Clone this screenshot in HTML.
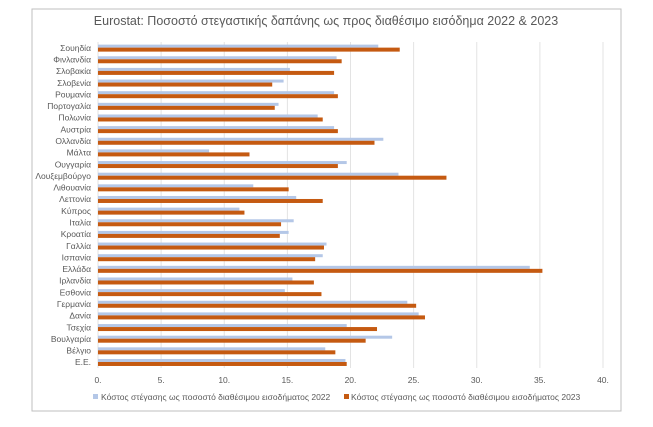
<!DOCTYPE html>
<html><head><meta charset="utf-8"><style>
body{margin:0;background:#fff;width:653px;height:422px;overflow:hidden;font-family:"Liberation Sans","DejaVu Sans",sans-serif}
</style></head><body>
<svg width="653" height="422" id="chart">
<rect x="32" y="9" width="589" height="402" fill="#fff" stroke="#bfbfbf"/>
<text x="326" y="25" text-anchor="middle" font-size="12.5" fill="#595959">Eurostat: Ποσοστό στεγαστικής δαπάνης ως προς διαθέσιμο εισόδημα 2022 &amp; 2023</text>
<g id="grid"></g><g id="bars"></g><g id="labels"></g><g id="ticks"></g>
<g>
<rect x="93" y="394" width="5" height="5" fill="#b4c7e7"/>
<text x="101" y="400" font-size="8.5" fill="#595959">Κόστος στέγασης ως ποσοστό διαθέσιμου εισοδήματος 2022</text>
<rect x="344" y="394" width="5" height="5" fill="#c55a11"/>
<text x="351" y="400" font-size="8.5" fill="#595959">Κόστος στέγασης ως ποσοστό διαθέσιμου εισοδήματος 2023</text>
</g>
</svg>
<script>
const categories=["Σουηδία","Φινλανδία","Σλοβακία","Σλοβενία","Ρουμανία","Πορτογαλία","Πολωνία","Αυστρία","Ολλανδία","Μάλτα","Ουγγαρία","Λουξεμβούργο","Λιθουανία","Λεττονία","Κύπρος","Ιταλία","Κροατία","Γαλλία","Ισπανία","Ελλάδα","Ιρλανδία","Εσθονία","Γερμανία","Δανία","Τσεχία","Βουλγαρία","Βέλγιο","Ε.Ε."];
const values2022=[22.2,18.9,15.2,14.7,18.7,14.3,17.4,18.7,22.6,8.8,19.7,23.8,12.3,15.7,11.2,15.5,15.1,18.1,17.8,34.2,15.4,14.8,24.5,25.4,19.7,23.3,18.0,19.6];
const values2023=[23.9,19.3,18.7,13.8,19.0,14.0,17.8,19.0,21.9,12.0,19.0,27.6,15.1,17.8,11.6,14.5,14.4,17.9,17.2,35.2,17.1,17.7,25.2,25.9,22.1,21.2,18.8,19.7];
const tickValues=[0,5,10,15,20,25,30,35,40];
const tickLabels=["0.","5.","10.","15.","20.","25.","30.","35.","40."];
const NS="http://www.w3.org/2000/svg";
const xLeft=98,xRight=603,yTop=42,yBot=368;
const xs=v=>xLeft+(v/40)*(xRight-xLeft);
const bandH=(yBot-yTop)/categories.length;
const yc=i=>yTop+bandH*(i+0.5);
function mk(t,a,p){const e=document.createElementNS(NS,t);for(const k in a)e.setAttribute(k,a[k]);document.getElementById(p).appendChild(e);return e;}
tickValues.forEach((v,i)=>{
 const g=mk('line',{x1:xs(v),x2:xs(v),y1:yTop,y2:yBot,stroke:'#e3e3e3','stroke-width':1},'grid');
 
 
 const t=mk('text',{x:xs(v),y:383,'text-anchor':'middle','font-size':8.5,fill:'#595959'},'ticks');
 t.textContent=tickLabels[i];
 
 
});
categories.forEach((c,i)=>{
 const y=yc(i);
 const b=mk('rect',{x:xLeft,y:y-3.2,width:xs(values2022[i])-xLeft,height:3,fill:'#b4c7e7'},'bars');
 
 
 const o=mk('rect',{x:xLeft,y:y-0.2,width:xs(values2023[i])-xLeft,height:4,fill:'#c55a11'},'bars');
 
 
 const t=mk('text',{x:91,y:y+3,'text-anchor':'end','font-size':8.5,fill:'#595959'},'labels');
 t.textContent=c;
 
 
});
</script>
</body></html>
